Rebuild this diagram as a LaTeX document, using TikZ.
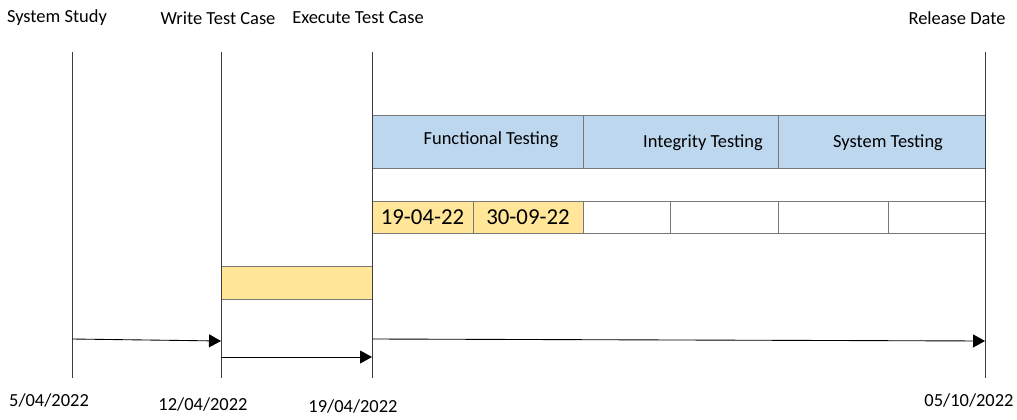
\documentclass[tikz,border=0pt]{standalone}
\usepackage{xcolor}
\usepackage{fontspec}
\setmainfont{Carlito}
\usepackage{tikz}
\usetikzlibrary{positioning, arrows.meta}
\definecolor{TLBlue}{RGB}{189,215,238}
\definecolor{TLYellow}{RGB}{255,230,153}
\definecolor{TLGrey}{RGB}{120,120,120}
\definecolor{TLDark}{RGB}{60,60,60}

\begin{document}
\begin{tikzpicture}[x=0.02cm, y=-0.02cm,
          lbl/.style={font=\fontsize{10.5}{12}\selectfont, inner sep=0pt},
          band/.style={rectangle, draw=TLGrey, fill=TLBlue, minimum height=1.06cm,
                       inner sep=0pt},
          cell/.style={rectangle, draw=TLGrey, minimum height=0.64cm, inner sep=0pt,
                       font=\fontsize{13}{15}\selectfont},
          vln/.style={draw=TLDark, line width=0.45pt},
          arr/.style={-{Triangle[length=0.24cm, width=0.26cm]}, draw=black,
                      line width=0.5pt}
        ]
        \useasboundingbox (0,0) rectangle (1017,419);

        % milestones
        \node[lbl] (study)   at (57, 18)  {System Study};
        \node[lbl] (write)   at (218, 18) {Write Test Case};
        \node[lbl] (execute) at (358, 18) {Execute Test Case};
        \node[lbl] (release) at (957, 18) {Release Date};

        \node[lbl] (d1) at (49, 400)  {5/04/2022};
        \node[lbl] (d2) at (203, 404) {12/04/2022};
        \node[lbl] (d3) at (353, 406) {19/04/2022};
        \node[lbl] (d4) at (969, 400) {05/10/2022};

        \coordinate (s1) at (72, 52);  \coordinate (e1) at (72, 378);
        \coordinate (s2) at (221, 52); \coordinate (e2) at (221, 378);
        \coordinate (s3) at (372, 52); \coordinate (e3) at (372, 378);
        \coordinate (s4) at (985, 52); \coordinate (e4) at (985, 378);

        % testing phases
        \node[band, minimum width=4.22cm] (func)  at (477.5, 141.5) {};
        \node[band, minimum width=3.9cm]  (integ) at (680.5, 141.5) {};
        \node[band, minimum width=4.14cm] (systm) at (881.5, 141.5) {};
        \node[lbl] (funcT)  at (491, 140) {Functional Testing};
        \node[lbl] (integT) at (703, 143) {Integrity Testing};
        \node[lbl] (systmT) at (888, 143) {System Testing};

        \node[cell, fill=TLYellow, minimum width=2.02cm] (c1) at (422.5, 217) {19-04-22};
        \node[cell, fill=TLYellow, minimum width=2.2cm]  (c2) at (528, 217)   {30-09-22};
        \node[cell, minimum width=1.74cm] (c3) at (626.5, 217) {};
        \node[cell, minimum width=2.16cm] (c4) at (724, 217)   {};
        \node[cell, minimum width=2.2cm]  (c5) at (833, 217)   {};
        \node[cell, minimum width=1.94cm] (c6) at (936.5, 217) {};

        \node[rectangle, draw=TLGrey, fill=TLYellow, minimum width=3.02cm,
              minimum height=0.66cm, inner sep=0pt] (prep) at (296.5, 282.5) {};

        \draw[vln] (s1) -- (e1);
        \draw[vln] (s2) -- (e2);
        \draw[vln] (s3) -- (e3);
        \draw[vln] (s4) -- (e4);

        \coordinate (a1) at (72, 339);  \coordinate (b1) at (221, 341);
        \coordinate (a2) at (221, 357); \coordinate (b2) at (372, 357);
        \coordinate (a3) at (372, 339); \coordinate (b3) at (985, 341);
        \draw[arr] (a1) -- (b1);
        \draw[arr] (a2) -- (b2);
        \draw[arr] (a3) -- (b3);
      \end{tikzpicture}
\end{document}
